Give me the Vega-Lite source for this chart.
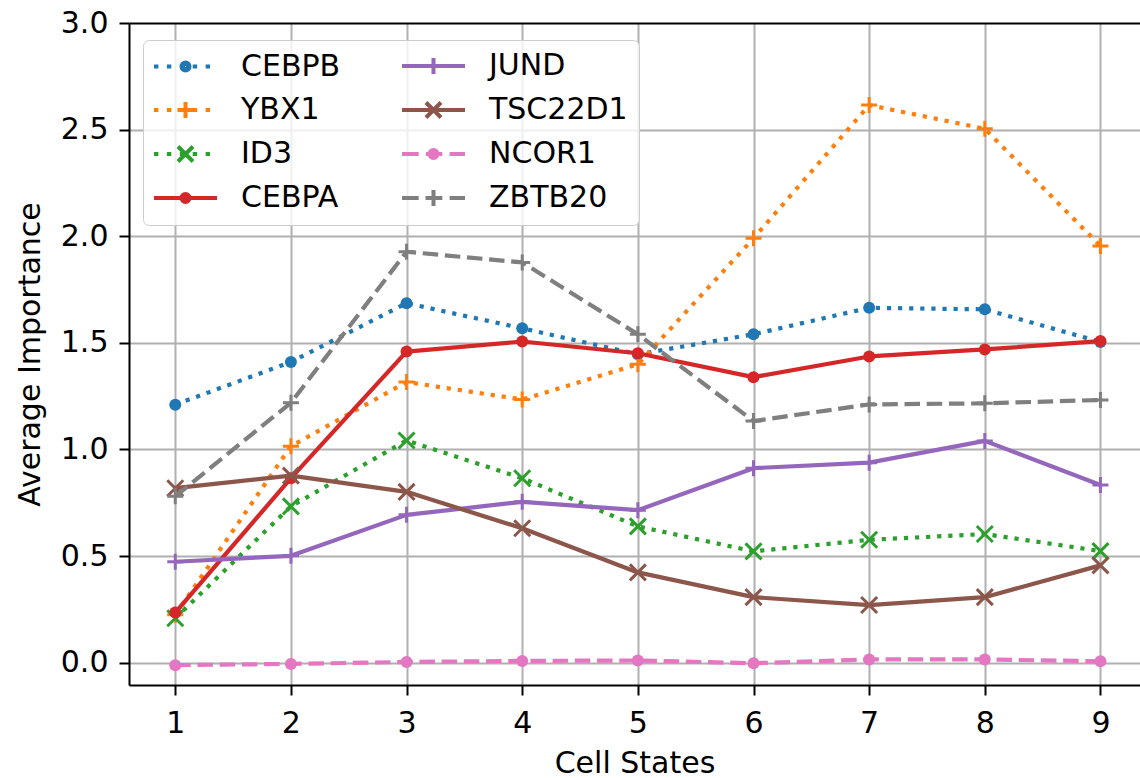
{
  "$schema": "https://vega.github.io/schema/vega-lite/v6.json",
  "autosize": "none",
  "padding": {"left": 129, "top": 23, "right": 0, "bottom": 93},
  "width": 1011,
  "height": 662,
  "config": {"view": {"stroke": null}, "font": "DejaVu Sans"},
  "datasets": {
    "d": [
      {"gene": "CEBPB", "state": 1, "value": 1.21}, {"gene": "CEBPB", "state": 2, "value": 1.41}, {"gene": "CEBPB", "state": 3, "value": 1.686}, {"gene": "CEBPB", "state": 4, "value": 1.568}, {"gene": "CEBPB", "state": 5, "value": 1.446}, {"gene": "CEBPB", "state": 6, "value": 1.54}, {"gene": "CEBPB", "state": 7, "value": 1.664}, {"gene": "CEBPB", "state": 8, "value": 1.657}, {"gene": "CEBPB", "state": 9, "value": 1.504},
      {"gene": "YBX1", "state": 1, "value": 0.224}, {"gene": "YBX1", "state": 2, "value": 1.015}, {"gene": "YBX1", "state": 3, "value": 1.316}, {"gene": "YBX1", "state": 4, "value": 1.234}, {"gene": "YBX1", "state": 5, "value": 1.399}, {"gene": "YBX1", "state": 6, "value": 1.99}, {"gene": "YBX1", "state": 7, "value": 2.615}, {"gene": "YBX1", "state": 8, "value": 2.504}, {"gene": "YBX1", "state": 9, "value": 1.954},
      {"gene": "ID3", "state": 1, "value": 0.208}, {"gene": "ID3", "state": 2, "value": 0.733}, {"gene": "ID3", "state": 3, "value": 1.042}, {"gene": "ID3", "state": 4, "value": 0.865}, {"gene": "ID3", "state": 5, "value": 0.639}, {"gene": "ID3", "state": 6, "value": 0.522}, {"gene": "ID3", "state": 7, "value": 0.576}, {"gene": "ID3", "state": 8, "value": 0.603}, {"gene": "ID3", "state": 9, "value": 0.523},
      {"gene": "CEBPA", "state": 1, "value": 0.235}, {"gene": "CEBPA", "state": 2, "value": 0.865}, {"gene": "CEBPA", "state": 3, "value": 1.459}, {"gene": "CEBPA", "state": 4, "value": 1.506}, {"gene": "CEBPA", "state": 5, "value": 1.451}, {"gene": "CEBPA", "state": 6, "value": 1.339}, {"gene": "CEBPA", "state": 7, "value": 1.436}, {"gene": "CEBPA", "state": 8, "value": 1.469}, {"gene": "CEBPA", "state": 9, "value": 1.508},
      {"gene": "JUND", "state": 1, "value": 0.473}, {"gene": "JUND", "state": 2, "value": 0.501}, {"gene": "JUND", "state": 3, "value": 0.693}, {"gene": "JUND", "state": 4, "value": 0.754}, {"gene": "JUND", "state": 5, "value": 0.715}, {"gene": "JUND", "state": 6, "value": 0.912}, {"gene": "JUND", "state": 7, "value": 0.938}, {"gene": "JUND", "state": 8, "value": 1.04}, {"gene": "JUND", "state": 9, "value": 0.833},
      {"gene": "TSC22D1", "state": 1, "value": 0.818}, {"gene": "TSC22D1", "state": 2, "value": 0.877}, {"gene": "TSC22D1", "state": 3, "value": 0.801}, {"gene": "TSC22D1", "state": 4, "value": 0.63}, {"gene": "TSC22D1", "state": 5, "value": 0.423}, {"gene": "TSC22D1", "state": 6, "value": 0.307}, {"gene": "TSC22D1", "state": 7, "value": 0.27}, {"gene": "TSC22D1", "state": 8, "value": 0.307}, {"gene": "TSC22D1", "state": 9, "value": 0.456},
      {"gene": "NCOR1", "state": 1, "value": -0.012}, {"gene": "NCOR1", "state": 2, "value": -0.006}, {"gene": "NCOR1", "state": 3, "value": 0.003}, {"gene": "NCOR1", "state": 4, "value": 0.008}, {"gene": "NCOR1", "state": 5, "value": 0.01}, {"gene": "NCOR1", "state": 6, "value": -0.003}, {"gene": "NCOR1", "state": 7, "value": 0.015}, {"gene": "NCOR1", "state": 8, "value": 0.015}, {"gene": "NCOR1", "state": 9, "value": 0.006},
      {"gene": "ZBTB20", "state": 1, "value": 0.78}, {"gene": "ZBTB20", "state": 2, "value": 1.219}, {"gene": "ZBTB20", "state": 3, "value": 1.927}, {"gene": "ZBTB20", "state": 4, "value": 1.877}, {"gene": "ZBTB20", "state": 5, "value": 1.54}, {"gene": "ZBTB20", "state": 6, "value": 1.133}, {"gene": "ZBTB20", "state": 7, "value": 1.211}, {"gene": "ZBTB20", "state": 8, "value": 1.216}, {"gene": "ZBTB20", "state": 9, "value": 1.232}
    ]
  },
  "data": {"name": "d"},
  "encoding": {
    "x": {
      "field": "state", "type": "quantitative",
      "scale": {"domain": [0.6, 9.342], "nice": false, "zero": false},
      "axis": {
        "values": [1, 2, 3, 4, 5, 6, 7, 8, 9], "format": "d",
        "grid": true, "gridColor": "#b0b0b0", "gridWidth": 2,
        "domainColor": "black", "domainWidth": 2,
        "tickColor": "black", "tickWidth": 2, "tickSize": 10,
        "labelFontSize": 30, "labelColor": "black", "labelPadding": 13, "labelFlush": false, "labelOverlap": false,
        "title": "Cell States", "titleFontSize": 30, "titleFontWeight": "normal", "titleColor": "black", "titlePadding": 10
      }
    },
    "y": {
      "field": "value", "type": "quantitative",
      "scale": {"domain": [-0.105, 3.0], "nice": false, "zero": false},
      "axis": {
        "values": [0, 0.5, 1, 1.5, 2, 2.5, 3], "format": ".1f",
        "grid": true, "gridWidth": 2,
        "gridColor": {"condition": {"test": "datum.value === 3", "value": "black"}, "value": "#b0b0b0"},
        "domainColor": "black", "domainWidth": 2,
        "tickColor": "black", "tickWidth": 2, "tickSize": 10,
        "labelFontSize": 30, "labelColor": "black", "labelPadding": 11, "labelFlush": false, "labelOverlap": false,
        "title": "Average Importance", "titleFontSize": 30, "titleFontWeight": "normal", "titleColor": "black", "titlePadding": 15
      }
    }
  },
  "layer": [
    {"transform": [{"filter": "datum.gene === 'CEBPB'"}], "mark": {"type": "line", "color": "#1f77b4", "strokeWidth": 4.2, "strokeDash": [4.2, 6.9], "strokeJoin": "round"}},
    {"transform": [{"filter": "datum.gene === 'CEBPB'"}], "mark": {"type": "point", "shape": "circle", "filled": true, "size": 144, "color": "#1f77b4", "opacity": 1}},
    {"transform": [{"filter": "datum.gene === 'YBX1'"}], "mark": {"type": "line", "color": "#ff7f0e", "strokeWidth": 4.2, "strokeDash": [4.2, 6.9], "strokeJoin": "round"}},
    {"transform": [{"filter": "datum.gene === 'YBX1'"}], "mark": {"type": "point", "shape": "M-1,0H1M0,-1V1", "filled": false, "size": 256, "strokeWidth": 3, "color": "#ff7f0e", "opacity": 1}},
    {"transform": [{"filter": "datum.gene === 'ID3'"}], "mark": {"type": "line", "color": "#2ca02c", "strokeWidth": 4.2, "strokeDash": [4.2, 6.9], "strokeJoin": "round"}},
    {"transform": [{"filter": "datum.gene === 'ID3'"}], "mark": {"type": "point", "shape": "M-1,-1L1,1M-1,1L1,-1", "filled": false, "size": 256, "strokeWidth": 3, "color": "#2ca02c", "opacity": 1}},
    {"transform": [{"filter": "datum.gene === 'CEBPA'"}], "mark": {"type": "line", "color": "#d62728", "strokeWidth": 4.2, "strokeJoin": "round"}},
    {"transform": [{"filter": "datum.gene === 'CEBPA'"}], "mark": {"type": "point", "shape": "circle", "filled": true, "size": 144, "color": "#d62728", "opacity": 1}},
    {"transform": [{"filter": "datum.gene === 'JUND'"}], "mark": {"type": "line", "color": "#9467bd", "strokeWidth": 4.2, "strokeJoin": "round"}},
    {"transform": [{"filter": "datum.gene === 'JUND'"}], "mark": {"type": "point", "shape": "M-1,0H1M0,-1V1", "filled": false, "size": 256, "strokeWidth": 3, "color": "#9467bd", "opacity": 1}},
    {"transform": [{"filter": "datum.gene === 'TSC22D1'"}], "mark": {"type": "line", "color": "#8c564b", "strokeWidth": 4.2, "strokeJoin": "round"}},
    {"transform": [{"filter": "datum.gene === 'TSC22D1'"}], "mark": {"type": "point", "shape": "M-1,-1L1,1M-1,1L1,-1", "filled": false, "size": 256, "strokeWidth": 3, "color": "#8c564b", "opacity": 1}},
    {"transform": [{"filter": "datum.gene === 'NCOR1'"}], "mark": {"type": "line", "color": "#e377c2", "strokeWidth": 4.2, "strokeDash": [15.5, 6.7], "strokeJoin": "round"}},
    {"transform": [{"filter": "datum.gene === 'NCOR1'"}], "mark": {"type": "point", "shape": "circle", "filled": true, "size": 144, "color": "#e377c2", "opacity": 1}},
    {"transform": [{"filter": "datum.gene === 'ZBTB20'"}], "mark": {"type": "line", "color": "#7f7f7f", "strokeWidth": 4.2, "strokeDash": [15.5, 6.7], "strokeJoin": "round"}},
    {"transform": [{"filter": "datum.gene === 'ZBTB20'"}], "mark": {"type": "point", "shape": "M-1,0H1M0,-1V1", "filled": false, "size": 256, "strokeWidth": 3, "color": "#7f7f7f", "opacity": 1}},
    {
      "mark": {"type": "point", "filled": false, "opacity": 0, "size": 676, "strokeWidth": 4},
      "encoding": {
        "color": {
          "field": "gene", "type": "nominal",
          "scale": {
            "domain": ["CEBPB", "YBX1", "ID3", "CEBPA", "JUND", "TSC22D1", "NCOR1", "ZBTB20"],
            "range": ["#1f77b4", "#ff7f0e", "#2ca02c", "#d62728", "#9467bd", "#8c564b", "#e377c2", "#7f7f7f"]
          },
          "legend": {
            "orient": "none", "legendX": 14, "legendY": 17, "columns": 2, "title": null,
            "labelFont": "DejaVu Sans", "labelFontSize": 30, "labelColor": "black", "labelLimit": 0,
            "symbolSize": 676, "symbolStrokeWidth": 4, "symbolOpacity": 1,
            "labelOffset": 57, "padding": 11, "rowPadding": 12, "columnPadding": 52,
            "fillColor": "rgba(255,255,255,0.8)", "strokeColor": "#cccccc", "cornerRadius": 6
          }
        },
        "shape": {
          "field": "gene", "type": "nominal",
          "scale": {
            "domain": ["CEBPB", "YBX1", "ID3", "CEBPA", "JUND", "TSC22D1", "NCOR1", "ZBTB20"],
            "range": [
              "M-1.154,0H-0.815M-0.161,0H0.179M0.833,0H1.172M1.826,0H2.166M2.82,0H3.159M0.961,0A0.308,0.308,0,1,0,1.577,0A0.308,0.308,0,1,0,0.961,0M1.154,0A0.115,0.115,0,1,0,1.384,0A0.115,0.115,0,1,0,1.154,0",
              "M-1.154,0H-0.815M-0.161,0H0.179M0.833,0H1.172M1.826,0H2.166M2.82,0H3.159M0.654,0H1.884M1.269,-0.615V0.615",
              "M-1.154,0H-0.815M-0.161,0H0.179M0.833,0H1.172M1.826,0H2.166M2.82,0H3.159M0.692,-0.577L1.846,0.577M0.692,0.577L1.846,-0.577",
              "M-1.154,0H3.692M0.961,0A0.308,0.308,0,1,0,1.577,0A0.308,0.308,0,1,0,0.961,0M1.154,0A0.115,0.115,0,1,0,1.384,0A0.115,0.115,0,1,0,1.154,0",
              "M-1.154,0H3.692M0.654,0H1.884M1.269,-0.615V0.615",
              "M-1.154,0H3.692M0.692,-0.577L1.846,0.577M0.692,0.577L1.846,-0.577",
              "M-1.154,0H0.13M0.687,0H1.948M2.505,0H3.692M0.961,0A0.308,0.308,0,1,0,1.577,0A0.308,0.308,0,1,0,0.961,0M1.154,0A0.115,0.115,0,1,0,1.384,0A0.115,0.115,0,1,0,1.154,0",
              "M-1.154,0H0.13M0.687,0H1.948M2.505,0H3.692M0.654,0H1.884M1.269,-0.615V0.615"
            ]
          }
        }
      }
    }
  ]
}
